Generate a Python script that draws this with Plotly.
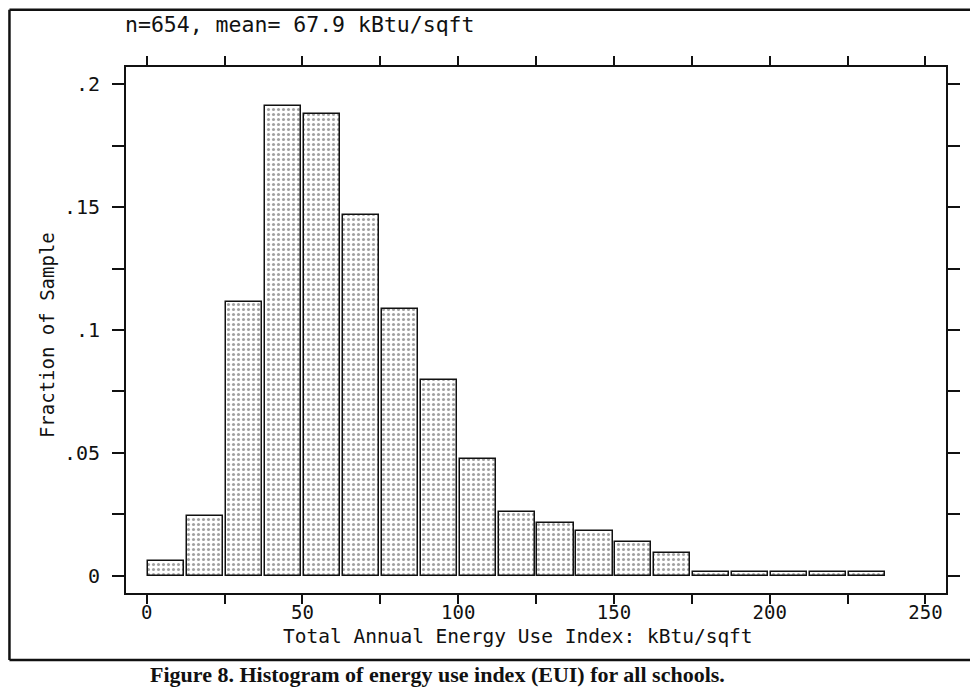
import plotly.graph_objects as go

# ---- data ----
bin_centers = [6.25, 18.75, 31.25, 43.75, 56.25, 68.75, 81.25, 93.75, 106.25,
               118.75, 131.25, 143.75, 156.25, 168.75, 181.25, 193.75, 206.25,
               218.75, 231.25]
fractions = [0.0061, 0.0245, 0.1116, 0.1911, 0.1881, 0.1468, 0.1086, 0.0795,
             0.0474, 0.0260, 0.0214, 0.0183, 0.0138, 0.0092, 0.0015, 0.0015,
             0.0015, 0.0015, 0.0015]
x_tick_vals = [0, 25, 50, 75, 100, 125, 150, 175, 200, 225, 250]
x_tick_text = ["0", "", "50", "", "100", "", "150", "", "200", "", "250"]
y_tick_vals = [0, 0.025, 0.05, 0.075, 0.1, 0.125, 0.15, 0.175, 0.2]
y_tick_text = ["0", "", ".05", "", ".1", "", ".15", "", ".2"]

FONT = "DejaVu Sans Mono"

fig = go.Figure()
fig.add_trace(go.Bar(
    x=bin_centers, y=fractions, width=11.6,
    marker=dict(color="white",
                line=dict(color="#111", width=1.5),
                pattern=dict(shape=".", fgcolor="#444", bgcolor="white",
                             size=5, solidity=0.3)),
    showlegend=False, hoverinfo="x+y"))

# the page body has an 8px margin: work in reference pixels, shift by OFF
OFF = 8
W, H = 978 - OFF, 694 - OFF
L, R, T, B = 126 - OFF, 945.7 - OFF, 66.7 - OFF, 593 - OFF
pw, ph = R - L, B - T


def px(xp):
    return (xp - OFF - L) / pw


def py(yp):
    return (B - (yp - OFF)) / ph


fig.update_layout(
    width=W, height=H,
    margin=dict(l=L, r=W - R, t=T, b=H - B),
    paper_bgcolor="white", plot_bgcolor="white",
    font=dict(family=FONT, size=19, color="#111"),
    bargap=0,
    xaxis=dict(range=[-6.65, 256.6], tickmode="array", tickvals=x_tick_vals,
               ticktext=x_tick_text, ticks="outside", ticklen=9, tickwidth=2,
               tickcolor="#111", showline=True, linewidth=2, linecolor="#111",
               mirror="ticks", showgrid=False, zeroline=False,
               ticklabelstandoff=-8,
               tickfont=dict(family=FONT, size=19)),
    yaxis=dict(range=[-0.00704, 0.2071], tickmode="array", tickvals=y_tick_vals,
               ticktext=y_tick_text, ticks="outside", ticklen=12, tickwidth=2,
               tickcolor="#111", showline=True, linewidth=2, linecolor="#111",
               mirror="ticks", showgrid=False, zeroline=False,
               ticklabelstandoff=8,
               tickfont=dict(family=FONT, size=20)),
)

annotations = [
    dict(text="n=654, mean= 67.9 kBtu/sqft", xref="paper", yref="paper",
         x=px(123), y=py(24), xanchor="left", yanchor="middle",
         showarrow=False, font=dict(family=FONT, size=21.5, color="#111")),
    dict(text="Fraction of Sample", xref="paper", yref="paper",
         x=px(47), y=py(335), xanchor="center", yanchor="middle", textangle=-90,
         showarrow=False, font=dict(family=FONT, size=19, color="#111")),
    dict(text="Total Annual Energy Use Index: kBtu/sqft", xref="paper",
         yref="paper", x=px(518), y=py(637), xanchor="center", yanchor="middle",
         showarrow=False, font=dict(family=FONT, size=19.5, color="#111")),
    dict(text="<b>Figure 8. Histogram of energy use index (EUI) for all schools.</b>",
         xref="paper", yref="paper", x=px(437), y=py(675), xanchor="center",
         yanchor="middle", showarrow=False,
         font=dict(family="Liberation Serif", size=22, color="#111")),
]
fig.update_layout(annotations=annotations)

line_style = dict(color="#111", width=2.5)
shapes = [
    dict(type="line", xref="paper", yref="paper", x0=px(9.5), x1=px(977),
         y0=py(9.5), y1=py(9.5), line=line_style),
    dict(type="line", xref="paper", yref="paper", x0=px(9.5), x1=px(9.5),
         y0=py(9.5), y1=py(660), line=line_style),
    dict(type="line", xref="paper", yref="paper", x0=px(9.5), x1=px(977),
         y0=py(660), y1=py(660), line=line_style),
]
fig.update_layout(shapes=shapes)

fig.write_html("out.html")
